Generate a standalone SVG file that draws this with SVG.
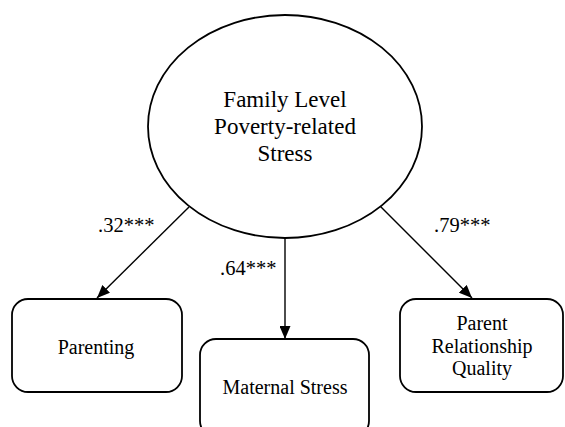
<svg xmlns="http://www.w3.org/2000/svg" width="565" height="427" viewBox="0 0 565 427">
<defs>
<marker id="ah" markerWidth="13" markerHeight="11" refX="13" refY="5.5" orient="auto" markerUnits="userSpaceOnUse">
<path d="M0,0 L13,5.5 L0,11 Z" fill="#000"/>
</marker>
<style>
.shape{fill:#fff;stroke:#000;stroke-width:1.8}
.t{font-family:"Liberation Serif","Times New Roman",serif;fill:#000;text-anchor:middle}
.big{font-size:23px}
.n{font-size:20px}
.lab{font-family:"Liberation Serif","Times New Roman",serif;font-size:20.5px;fill:#000}
.c{stroke:#000;stroke-width:1.4;fill:none;marker-end:url(#ah)}
</style>
</defs>
<rect width="565" height="427" fill="#fff"/>
<g id="connectors">
<line class="c" x1="189" y1="207" x2="97" y2="298"/>
<line class="c" x1="285" y1="238" x2="285" y2="339"/>
<line class="c" x1="380" y1="206" x2="472" y2="298"/>
<text class="lab" x="98" y="232">.32***</text>
<text class="lab" x="220" y="275">.64***</text>
<text class="lab" x="434" y="232">.79***</text>
</g>
<g id="latent">
<ellipse class="shape" cx="285" cy="126.5" rx="137" ry="111.5"/>
<text class="t big" x="285" y="107">Family Level</text>
<text class="t big" x="285" y="134">Poverty-related</text>
<text class="t big" x="285" y="161">Stress</text>
</g>
<g id="parenting">
<rect class="shape" x="12" y="299" width="170" height="93" rx="16"/>
<text class="t n" x="96" y="354">Parenting</text>
</g>
<g id="maternal">
<rect class="shape" x="200" y="339" width="169" height="98" rx="16"/>
<text class="t n" x="285" y="394">Maternal Stress</text>
</g>
<g id="relationship">
<rect class="shape" x="400" y="299" width="163" height="93" rx="16"/>
<text class="t n" x="482" y="330">Parent</text>
<text class="t n" x="482" y="353">Relationship</text>
<text class="t n" x="482" y="375">Quality</text>
</g>
</svg>
